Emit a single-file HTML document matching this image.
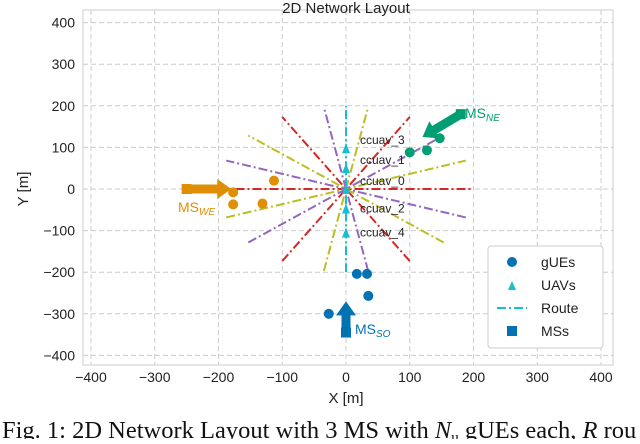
<!DOCTYPE html>
<html><head><meta charset="utf-8"><style>
body{margin:0;background:#fff;width:640px;height:439px;overflow:hidden}
svg{font-family:"Liberation Sans",sans-serif}
</style></head><body>
<svg id="c" width="640" height="439" xmlns="http://www.w3.org/2000/svg"></svg>
<script>
const xTicks=[-400,-300,-200,-100,0,100,200,300,400];
const yTicks=[-400,-300,-200,-100,0,100,200,300,400];
const routeAngles=[0,60,120,20,140,80,160,40,100,90];
const routeColors=['#d62728','#d62728','#d62728','#bcbd22','#bcbd22','#bcbd22','#9467bd','#9467bd','#9467bd','#17becf'];
const routeRadius=200;
const uavY=[98,50,0,-47,-105];
const uavLabels=['ccuav_3','ccuav_1','ccuav_0','ccuav_2','ccuav_4'];
const ueSOx=[17,33,35,-27], ueSOy=[-204,-204,-257,-300];
const ueWEx=[-177,-177,-131,-113], ueWEy=[-8,-37,-35,20];
const ueNEx=[100,127,147], ueNEy=[88,93,122];
const msX=[0,-250,180], msY=[-345,0,180];
const X=v=>346+v*0.6375, Y=v=>189-v*0.416;
const s=document.getElementById('c');
const NS='http://www.w3.org/2000/svg';
function mk(t,a,txt){const e=document.createElementNS(NS,t);for(const k in a)e.setAttribute(k,a[k]);if(txt!==undefined)e.textContent=txt;s.appendChild(e);return e;}
let e;
e=mk('rect',{x:83,y:10,width:530,height:355,fill:'#fff',stroke:'#ccc'});


xTicks.forEach(t=>{
 e=mk('line',{x1:X(t),x2:X(t),y1:10,y2:365,stroke:'#ccc','stroke-dasharray':'5,3'});
 
 
 e=mk('text',{x:X(t),y:382,'text-anchor':'middle','font-size':14,fill:'#222'},(t<0?'\u2212'+(-t):t));
 
 
});
yTicks.forEach(t=>{
 e=mk('line',{x1:83,x2:613,y1:Y(t),y2:Y(t),stroke:'#ccc','stroke-dasharray':'5,3'});
 
 
 e=mk('text',{x:75,y:Y(t)+5,'text-anchor':'end','font-size':14,fill:'#222'},(t<0?'\u2212'+(-t):t));
 
 
});
e=mk('text',{x:346,y:13,'text-anchor':'middle','font-size':15,fill:'#222'},'2D Network Layout');


e=mk('text',{x:346,y:403,'text-anchor':'middle','font-size':15,fill:'#222'},'X [m]');


e=mk('text',{x:28,y:189,'text-anchor':'middle','font-size':15,fill:'#222',transform:'rotate(-90 28 189)'},'Y [m]');


routeAngles.forEach((a,i)=>{
 const r=a*Math.PI/180,c=Math.cos(r)*routeRadius,n=Math.sin(r)*routeRadius;
 e=mk('line',{x1:X(-c),y1:Y(-n),x2:X(c),y2:Y(n),stroke:routeColors[i],'stroke-width':2,'stroke-dasharray':'9,3,2,3'});
 
 
});
function ues(xs,ys,col){xs.forEach((x,i)=>{e=mk('circle',{cx:X(x),cy:Y(ys[i]),r:5,fill:col});
 
 });}
ues(ueSOx,ueSOy,'#0173b2');ues(ueWEx,ueWEy,'#de8f05');ues(ueNEx,ueNEy,'#029e73');
uavY.forEach((y,i)=>{
 e=mk('polygon',{points:`${X(0)-4},${Y(y)+5} ${X(0)+4},${Y(y)+5} ${X(0)},${Y(y)-5}`,fill:'#17becf'});
 
 
 e=mk('text',{x:X(0)+14,y:Y(y)-4+(i>=3?8:0),'font-size':12,fill:'#222'},uavLabels[i]);
 
 
});
const msCols=['#0173b2','#de8f05','#029e73'];
const arrowTo=[[0,-270],[-180,0],[120,125]];
msX.forEach((x,i)=>{
 const x1=X(x),y1=Y(msY[i]),x2=X(arrowTo[i][0]),y2=Y(arrowTo[i][1]);
 const ang=Math.atan2(y2-y1,x2-x1);
 const L=Math.hypot(x2-x1,y2-y1);
 const g=document.createElementNS(NS,'g');g.setAttribute('transform',`translate(${x1},${y1}) rotate(${ang*180/Math.PI})`);
 
 
 g.innerHTML=`<polygon points="0,-4.5 ${L-14},-4.5 ${L-14},-10 ${L},0 ${L-14},10 ${L-14},4.5 0,4.5" fill="${msCols[i]}"/>`;
 s.appendChild(g);
 e=mk('rect',{x:x1-5,y:y1-5,width:10,height:10,fill:msCols[i]});
 
 
});
const msLab=[['SO',355,334],['WE',178,212],['NE',465,118]];
msLab.forEach((l,i)=>{
 e=mk('text',{x:l[1],y:l[2],'font-size':14,fill:msCols[i]});
 e.innerHTML=`MS<tspan font-size="10" font-style="italic" dy="3">${l[0]}</tspan>`;
 
 
});
e=mk('rect',{x:488,y:246,width:115,height:102,rx:3,fill:'#fff',stroke:'#ccc'});


const lg=[['gUEs',262],['UAVs',285],['Route',308],['MSs',331]];
mk('circle',{cx:512,cy:262,r:5,fill:'#0173b2'});
mk('polygon',{points:'508,290 516,290 512,281',fill:'#17becf'});
mk('line',{x1:497,x2:527,y1:308,y2:308,stroke:'#17becf','stroke-width':2,'stroke-dasharray':'9,3,2,3'});
mk('rect',{x:507,y:326,width:10,height:10,fill:'#0173b2'});
lg.forEach(l=>{e=mk('text',{x:541,y:l[1]+5,'font-size':14,fill:'#222'},l[0]);
 
 });
e=mk('text',{x:2,y:438,'font-size':24.5,'font-family':'Liberation Serif, serif',fill:'#111'});
e.innerHTML='Fig. 1: 2D Network Layout with 3 MS with <tspan font-style="italic">N</tspan><tspan font-size="15" dy="4">u</tspan><tspan dy="-4"> gUEs each, </tspan><tspan font-style="italic">R</tspan> rou';


</script>
</body></html>
